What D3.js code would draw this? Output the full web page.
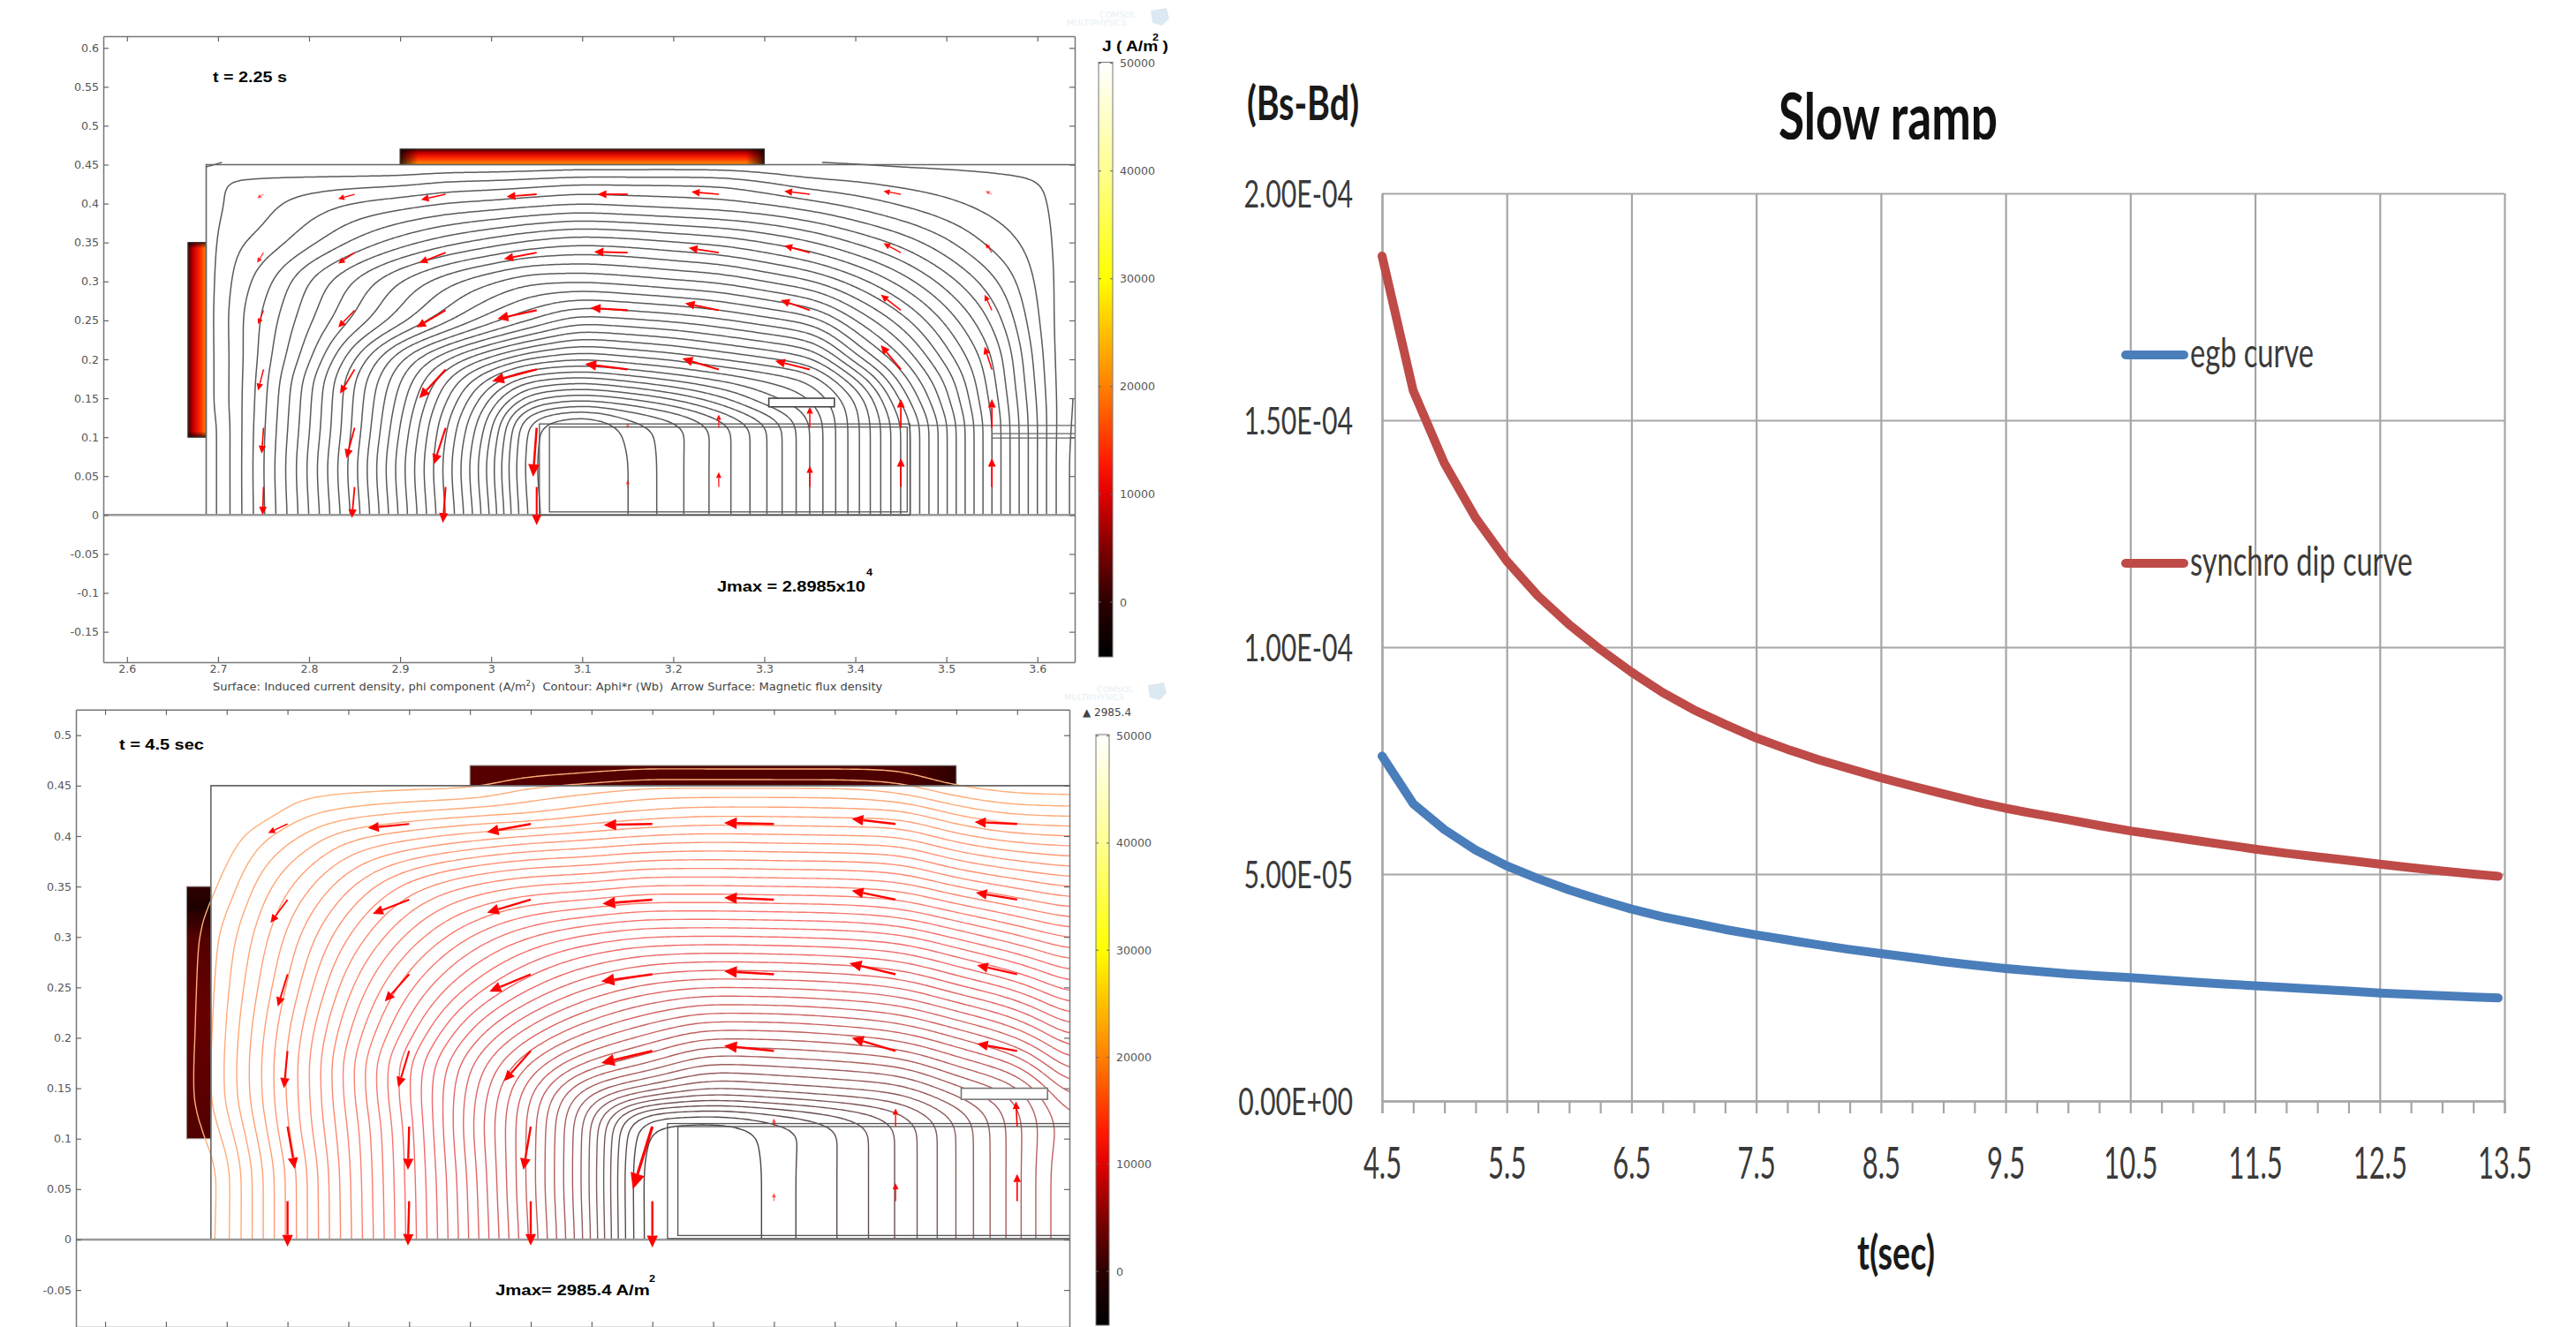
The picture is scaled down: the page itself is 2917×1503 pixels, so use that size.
<!DOCTYPE html>
<html>
<head>
<meta charset="utf-8">
<script src="https://cdn.jsdelivr.net/npm/d3@7"></script>
<style>
  body { margin: 0; background: #fff; }
  svg { display: block; }
</style>
</head>
<body>
<div id="chart"></div>
<script>
// ---- ramp curves (right chart) ----
const rampTimes = [4.5, 4.75, 5, 5.25, 5.5, 5.75, 6, 6.25, 6.5, 6.75, 7, 7.25, 7.5, 7.75, 8, 8.25, 8.5, 8.75, 9, 9.25, 9.5, 9.75, 10, 10.25, 10.5, 10.75, 11, 11.25, 11.5, 11.75, 12, 12.25, 12.5, 12.75, 13, 13.25, 13.45];
const egbCurve = [7.6e-5, 6.55e-5, 5.98e-5, 5.53e-5, 5.18e-5, 4.9e-5, 4.65e-5, 4.43e-5, 4.23e-5, 4.06e-5, 3.92e-5, 3.78e-5, 3.66e-5, 3.55e-5, 3.44e-5, 3.34e-5, 3.25e-5, 3.16e-5, 3.07e-5, 2.99e-5, 2.92e-5, 2.86e-5, 2.8e-5, 2.76e-5, 2.72e-5, 2.67e-5, 2.62e-5, 2.58e-5, 2.54e-5, 2.5e-5, 2.46e-5, 2.42e-5, 2.38e-5, 2.35e-5, 2.32e-5, 2.29e-5, 2.27e-5];
const synchroCurve = [1.862e-4, 1.565e-4, 1.405e-4, 1.285e-4, 1.19e-4, 1.113e-4, 1.05e-4, 9.95e-5, 9.45e-5, 9e-5, 8.62e-5, 8.3e-5, 8e-5, 7.75e-5, 7.52e-5, 7.32e-5, 7.12e-5, 6.94e-5, 6.77e-5, 6.6e-5, 6.45e-5, 6.32e-5, 6.2e-5, 6.07e-5, 5.95e-5, 5.85e-5, 5.75e-5, 5.65e-5, 5.55e-5, 5.46e-5, 5.38e-5, 5.3e-5, 5.22e-5, 5.14e-5, 5.07e-5, 5e-5, 4.95e-5];
const rampYTicks = [0, 5e-5, 1e-4, 1.5e-4, 2e-4];
const rampYLabels = ["0.00E+00", "5.00E-05", "1.00E-04", "1.50E-04", "2.00E-04"];
const rampXTicks = [4.5, 5.5, 6.5, 7.5, 8.5, 9.5, 10.5, 11.5, 12.5, 13.5];
const rampXMinor = d3.range(4.5, 13.51, 0.25);

// ---- tick values of the field panels ----
const xTicksA = [2.6, 2.7, 2.8, 2.9, 3, 3.1, 3.2, 3.3, 3.4, 3.5, 3.6];
const yTicksA = [-0.15, -0.1, -0.05, 0, 0.05, 0.1, 0.15, 0.2, 0.25, 0.3, 0.35, 0.4, 0.45, 0.5, 0.55, 0.6];
const xTicksB = [2.6, 2.65, 2.7, 2.75, 2.8, 2.85, 2.9, 2.95, 3, 3.05, 3.1, 3.15, 3.2, 3.25, 3.3, 3.35];
const yTicksB = [-0.05, 0, 0.05, 0.1, 0.15, 0.2, 0.25, 0.3, 0.35, 0.4, 0.45, 0.5];

// ---- colour bar of the field panels ----
const barStops = [-5000, 0, 5000, 10000, 13000, 20000, 30000, 40000, 50000];
const barColors = ["#000000", "#2b0000", "#800000", "#e00000", "#ff1a00", "#ff8000", "#ffff00", "#ffff90", "#ffffff"];
const barTicks = [0, 10000, 20000, 30000, 40000, 50000];

// ---- Aphi*r field, counted in contour lines ----
const fieldAx = [2.687, 2.70, 2.72, 2.76, 2.80, 2.85, 2.90, 2.95, 3.00, 3.05, 3.10, 3.15, 3.20, 3.25, 3.30, 3.35, 3.40, 3.45, 3.50, 3.55, 3.60, 3.64];
const fieldAy = [0, 0.06, 0.115, 0.14, 0.17, 0.2, 0.25, 0.3, 0.35, 0.4, 0.43, 0.452];
const fieldA = [
  [-0.05, 1, 2.5, 5.7, 9, 13.4, 18.2, 23, 28.1, 34, 35.3, 34, 32.4, 30.6, 28.2, 25, 21.4, 17, 12.1, 7, 2, -2],
  [-0.05, 1, 2.5, 5.8, 9.2, 13.7, 18.5, 23.3, 28.5, 34.2, 35.3, 34, 32.4, 30.6, 28.2, 25, 21.4, 17, 12.1, 7, 2, -2],
  [-0.05, 1, 2.5, 5.65, 8.9, 13.3, 18, 22.8, 27.7, 34, 35.2, 33.6, 32.4, 30.6, 28.2, 25, 21.4, 17, 12.1, 7, 2, -1.9],
  [-0.05, 1.3, 2.5, 5.55, 8.8, 13.2, 17.6, 22.1, 26.6, 31, 31.9, 31.2, 30, 28.2, 26, 24.3, 21.2, 16.15, 11.5, 6.75, 1.9, -1.8],
  [-0.05, 1.3, 2.5, 5.4, 8.6, 13, 17, 21, 24.7, 27.4, 27.9, 27.2, 26.3, 25.3, 24.2, 23, 19.5, 14.8, 10.8, 6.4, 1.7, -1.7],
  [-0.05, 1.3, 2.5, 5.1, 7.8, 12, 15.8, 18.9, 21.4, 23.3, 23.9, 23.4, 22.8, 22, 21.2, 20.2, 16.5, 13.2, 9.6, 6.05, 1.5, -1.6],
  [-0.05, 1.3, 2.6, 4.7, 6.8, 9.25, 11.6, 13.7, 15.6, 17.2, 18.5, 18.2, 17.8, 17.2, 16.4, 15.5, 13, 10.5, 7.7, 4.8, 1.1, -1.3],
  [-0.05, 1.3, 2.3, 4, 6, 8.1, 10, 11.6, 12.85, 13.8, 13.9, 13.6, 13.2, 12.8, 12, 11.1, 9.5, 7.6, 5.5, 3.3, 0.8, -1],
  [-0.05, 1.3, 1.8, 2.6, 3.7, 5.2, 6.5, 7.6, 8.5, 9.3, 9.7, 9.5, 9.1, 8.7, 8, 7.1, 5.9, 4.65, 3.2, 1.7, 0.5, -0.8],
  [-0.05, 1.2, 1.2, 1.85, 2.4, 3.05, 3.5, 4, 4.3, 4.65, 4.9, 4.7, 4.5, 4.3, 3.9, 3.3, 2.6, 1.85, 1.2, 0.65, 0.2, -0.6],
  [-0.05, 1.05, 1.2, 1.3, 1.35, 1.4, 1.5, 1.9, 2.05, 2.3, 2.6, 2.6, 2.6, 2.5, 1.9, 1.2, 0.9, 0.6, 0.4, 0.2, 0, -0.4],
  [-0.3, -0.3, -0.3, -0.3, -0.3, -0.3, -0.3, -0.3, -0.3, -0.3, -0.3, -0.3, -0.3, -0.3, -0.3, -0.3, -0.3, -0.3, -0.3, -0.3, -0.3, -0.3]
];
const levelsA = d3.range(-1, 35);

// ---- same thing for the lower panel ----
const fieldBx = [2.667, 2.687, 2.70, 2.72, 2.76, 2.80, 2.85, 2.90, 2.95, 3.00, 3.05, 3.10, 3.15, 3.20, 3.25, 3.30, 3.35, 3.393];
const fieldBy = [0, 0.06, 0.115, 0.14, 0.17, 0.2, 0.25, 0.3, 0.35, 0.4, 0.43, 0.45, 0.46, 0.472];
const fieldB = [
  [0, 0.3, 1.7, 3.9, 8.3, 12.7, 18.3, 24.1, 30.2, 36.9, 45, 45.5, 43.5, 42.1, 40, 37, 33.3, 29.6],
  [0, 0.1, 1.7, 3.9, 8.3, 12.8, 18.4, 24.3, 30.5, 37.1, 45, 45.5, 43.5, 42.1, 40, 37, 33.3, 29.6],
  [0, 1.5, 2.6, 4.7, 9, 13.1, 18.6, 24.7, 30.4, 37, 44.2, 44.5, 43.5, 42.1, 40, 37, 33.3, 30],
  [0, 2, 3.1, 5.1, 9.1, 13.4, 18.9, 24.5, 30, 35.5, 38.3, 39.3, 38.8, 38.2, 37.5, 35.2, 32.8, 28.9],
  [0, 2, 3.2, 5.15, 9.15, 13.5, 18.9, 23.9, 28.4, 31.9, 33.7, 35.5, 35.2, 34.8, 34.2, 32.2, 30.3, 26.5],
  [0, 1.9, 3.1, 5, 8.9, 13, 17.8, 22.4, 26, 28.7, 30.5, 31.9, 31.8, 31.4, 30.7, 29, 27, 24],
  [0, 1.8, 2.8, 4.5, 8, 11.7, 15.75, 19.2, 21.9, 24, 25.4, 26, 25.9, 25.6, 25, 23.3, 21.6, 19.4],
  [0, 1.6, 2.4, 3.9, 7, 10, 13.3, 16, 18, 19.3, 20, 20.1, 20, 19.8, 19.3, 17.8, 16.2, 14.8],
  [0, 0.6, 1.3, 2.9, 5.4, 7.8, 10.4, 12.1, 13.1, 13.5, 14.1, 14.1, 14, 13.9, 13.5, 12, 10.8, 9.9],
  [0, 0, 0.3, 1.3, 3, 4.6, 5.6, 6.4, 7.1, 7.6, 8.1, 8.3, 8.2, 8.1, 7.9, 6.3, 5.3, 5],
  [0, 0, 0, 0, 1.2, 1.8, 2.3, 2.7, 3.1, 3.9, 4.5, 4.8, 4.8, 4.7, 4.5, 3, 2.1, 1.95],
  [0, 0, 0, 0, 0.4, 0.5, 0.6, 0.7, 2.2, 2.5, 3, 2.9, 2.9, 2.9, 2.2, 0.9, 0.3, 0.2],
  [0, 0, 0, 0, 0, 0, 0, 0, 0.4, 1, 1.3, 1.3, 1.3, 1.3, 1.35, 0, 0, 0],
  [0, 0, 0, 0, 0, 0, 0, 0, 0, 0, 0, 0, 0, 0, 0, 0, 0, 0]
];
const levelsB = d3.range(1, 45);
const levelStopsB = [1, 10, 20, 30, 38, 45];
const levelColorsB = ["#ffb078", "#ff8f72", "#f46a6a", "#c9615f", "#85595a", "#404040"];

// ---- flux density arrows, tails on a grid, vectors in 1/1000 axis units ----
const arrowCols = [2.75, 2.85, 2.95, 3.05, 3.15, 3.25, 3.35, 3.45, 3.55];
const arrowRows = [0.412, 0.337, 0.263, 0.187, 0.112, 0.036];
const arrowUA = [
  [-7, -18, -27, -33, -33, -30, -28, -19, -7],
  [-7, -18, -29, -36, -37, -33, -28, -19, -7],
  [-6, -18, -32, -43, -41, -37, -32, -22, -8],
  [-6, -16, -29, -49, -47, -40, -38, -22, -8],
  [-2, -9, -13, -4, 0, 0, 0, 0, 0],
  [-1, -3, -3, 0, 0, 0, 0, 0, 0]
];
const arrowVA = [
  [-5, -6, -7, -3, 0, 3, 4, 4, 4],
  [-13, -14, -13, -8, 1, 6, 9, 12, 12],
  [-18, -22, -22, -11, 3, 9, 13, 20, 20],
  [-27, -31, -37, -15, 7, 14, 11, 31, 29],
  [-33, -39, -47, -63, 6, 17, 27, 37, 37],
  [-36, -40, -46, -49, 9, 19, 27, 37, 37]
];
const arrowColsB = [2.75, 2.85, 2.95, 3.05, 3.15, 3.25, 3.35];
const arrowRowsB = [0.412, 0.337, 0.263, 0.187, 0.112, 0.038];
const arrowUB = [
  [-16, -34, -36, -40, -41, -36, -35],
  [-14, -30, -36, -41, -41, -36, -34],
  [-8, -20, -34, -42, -41, -38, -33],
  [-3, -9, -22, -42, -41, -36, -33],
  [6, -1, -6, -16, 0, 0, -1],
  [0, -1, 0, 0, 0, 0, 0]
];
const arrowVB = [
  [-9, -4, -8, -1, 1, 5, 2],
  [-23, -14, -13, -4, 2, 9, 7],
  [-32, -27, -17, -7, 3, 11, 9],
  [-37, -36, -30, -12, 5, 13, 7],
  [-42, -43, -43, -62, 8, 18, 25],
  [-45, -44, -44, -46, 8, 18, 27]
];

// ---- page ----
const svg = d3.select("#chart").append("svg").attr("width", 2917).attr("height", 1503);
const defs = svg.append("defs");
const tickGrey = "#666";
const smallFont = "'DejaVu Sans', sans-serif";
const boldFont = "'Liberation Sans', Arial, sans-serif";
const rampFont = "Lato, 'Open Sans', sans-serif";

// draws a string squeezed to an exact pixel width
function fitText(parent, str, x, y, width, size, family, weight, color) {
  const t = parent.append("text")
    .text(str)
    .attr("font-family", family)
    .attr("font-size", size)
    .attr("font-weight", weight || "normal")
    .attr("fill", color || "#000");
  const len = t.node().getComputedTextLength();
  t.attr("transform", `translate(${x},${y}) scale(${width / len},1)`);
  return t;
}

function gradient(id, horizontal, stops) {
  const g = defs.append("linearGradient").attr("id", id)
    .attr("x1", 0).attr("y1", 0)
    .attr("x2", horizontal ? 1 : 0).attr("y2", horizontal ? 0 : 1);
  stops.forEach(s => g.append("stop").attr("offset", s[0]).attr("stop-color", s[1]).attr("stop-opacity", s[2] === undefined ? 1 : s[2]));
  return `url(#${id})`;
}

// monotone cubic through the read values, so the contours do not come out kinked
function monotone(xs, ys) {
  const n = xs.length;
  const d = d3.range(n - 1).map(i => (ys[i + 1] - ys[i]) / (xs[i + 1] - xs[i]));
  const m = d3.range(n).map(i => {
    if (i === 0) return d[0];
    if (i === n - 1) return d[n - 2];
    return d[i - 1] * d[i] <= 0 ? 0 : 2 * d[i - 1] * d[i] / (d[i - 1] + d[i]);
  });
  return q => {
    let i = Math.min(d3.bisectRight(xs, q) - 1, n - 2);
    if (i < 0) i = 0;
    const h = xs[i + 1] - xs[i], t = (q - xs[i]) / h;
    return (2 * t * t * t - 3 * t * t + 1) * ys[i] + (t * t * t - 2 * t * t + t) * h * m[i]
      + (-2 * t * t * t + 3 * t * t) * ys[i + 1] + (t * t * t - t * t) * h * m[i + 1];
  };
}

// d3.contours closes its polygons around the grid, only keep the part inside
function openLines(multi, nx, ny) {
  const eps = 1e-6;
  const inside = p => p[0] >= 0.5 - eps && p[0] <= nx - 0.5 + eps && p[1] >= 0.5 - eps && p[1] <= ny - 0.5 + eps;
  const lines = [];
  multi.coordinates.forEach(poly => poly.forEach(ring => {
    const pts = ring.slice(0, -1);
    const start = pts.findIndex(p => !inside(p));
    if (start < 0) { lines.push(ring); return; }
    let cur = [];
    for (let i = 0; i < pts.length; i++) {
      const p = pts[(start + i) % pts.length];
      if (inside(p)) cur.push(p);
      else { if (cur.length > 1) lines.push(cur); cur = []; }
    }
    if (cur.length > 1) lines.push(cur);
  }));
  return lines;
}

function drawContours(g, x, y, gx, gy, field, levels, colorOf, width) {
  const stepX = 0.004, stepY = 0.003;
  const nx = Math.round((gx[gx.length - 1] - gx[0]) / stepX) + 1;
  const ny = Math.round((gy[gy.length - 1] - gy[0]) / stepY) + 1;
  const fineX = d3.range(nx).map(i => gx[0] + i * stepX);
  const fineY = d3.range(ny).map(i => gy[0] + i * stepY);
  const rows = field.map(r => { const f = monotone(gx, r); return fineX.map(f); });
  const flat = new Array(nx * ny);
  fineX.forEach((fx, i) => {
    const f = monotone(gy, rows.map(r => r[i]));
    fineY.forEach((fy, j) => { flat[j * nx + i] = f(fy); });
  });
  if (d3.blur2) d3.blur2({ data: flat, width: nx, height: ny }, 3);

  const ix = d3.scaleLinear().domain([0.5, nx - 0.5]).range([fineX[0], fineX[nx - 1]]);
  const iy = d3.scaleLinear().domain([0.5, ny - 0.5]).range([fineY[0], fineY[ny - 1]]);
  const gen = d3.contours().size([nx, ny]);
  const line = d3.line()
    .x(p => x(ix(p[0])))
    .y(p => y(iy(p[1])))
    .curve(d3.curveBasis);
  levels.forEach(level => {
    openLines(gen.contour(flat, level), nx, ny).forEach(pts => {
      g.append("path")
        .attr("d", line(pts))
        .attr("fill", "none")
        .attr("stroke", colorOf(level))
        .attr("stroke-width", width);
    });
  });
}

function drawArrows(g, x, y, cols, rows, us, vs) {
  rows.forEach((ry, r) => cols.forEach((cx, c) => {
    const x0 = x(cx), y0 = y(ry);
    const x1 = x(cx + us[r][c] / 1000), y1 = y(ry + vs[r][c] / 1000);
    const len = Math.hypot(x1 - x0, y1 - y0);
    const ux = (x1 - x0) / len, uy = (y1 - y0) / len;
    const head = Math.min(3 + len * 0.2, 18), half = 1.5 + len * 0.09;
    const bx = x1 - ux * head, by = y1 - uy * head;
    const op = Math.min(1, 0.35 + len / 25);
    g.append("line")
      .attr("x1", x0).attr("y1", y0).attr("x2", bx).attr("y2", by)
      .attr("stroke", "#f00").attr("stroke-width", 0.6 + len * 0.035).attr("opacity", op);
    g.append("path")
      .attr("d", d3.line()([[x1, y1], [bx - uy * half, by + ux * half], [bx + uy * half, by - ux * half]]))
      .attr("fill", "#f00").attr("opacity", op);
  }));
}

function styleAxis(sel) {
  sel.select(".domain").attr("stroke", "#777").attr("stroke-width", 1.5);
  sel.selectAll("line").attr("stroke", tickGrey).attr("stroke-width", 1.2);
  sel.selectAll("text").attr("font-family", smallFont).attr("font-size", 12.6).attr("fill", "#555");
}

function drawFrame(g, x, y, xTicks, yTicks, showXLabels) {
  const fmt = d => String(+d.toFixed(2));
  const [x0, x1] = x.range();
  const [y0, y1] = y.range();
  g.append("g").attr("transform", `translate(${x0},0)`)
    .call(d3.axisLeft(y).tickValues(yTicks).tickSizeInner(-6).tickSizeOuter(0).tickPadding(5).tickFormat(fmt)).call(styleAxis);
  g.append("g").attr("transform", `translate(${x1},0)`)
    .call(d3.axisRight(y).tickValues(yTicks).tickSizeInner(-6).tickSizeOuter(0).tickFormat("")).call(styleAxis);
  g.append("g").attr("transform", `translate(0,${y1})`)
    .call(d3.axisTop(x).tickValues(xTicks).tickSizeInner(-6).tickSizeOuter(0).tickFormat("")).call(styleAxis);
  g.append("g").attr("transform", `translate(0,${y0})`)
    .call(d3.axisBottom(x).tickValues(xTicks).tickSizeInner(-6).tickSizeOuter(0).tickPadding(3).tickFormat(showXLabels ? fmt : "")).call(styleAxis);
}

function drawColorBar(g, x0, x1, barScale, yTop, yBottom, id) {
  const stops = barStops.map((v, i) => [(barScale(v) - yTop) / (yBottom - yTop), barColors[i]]).sort((a, b) => a[0] - b[0]);
  g.append("rect").attr("x", x0).attr("y", yTop).attr("width", x1 - x0).attr("height", yBottom - yTop)
    .attr("fill", gradient(id, false, stops)).attr("stroke", "#777").attr("stroke-width", 1);
  barTicks.forEach(v => {
    g.append("line").attr("x1", x0).attr("x2", x0 + 3).attr("y1", barScale(v)).attr("y2", barScale(v)).attr("stroke", "#666");
    g.append("line").attr("x1", x1 - 3).attr("x2", x1).attr("y1", barScale(v)).attr("y2", barScale(v)).attr("stroke", "#666");
    g.append("text").text(v).attr("x", x1 + 8).attr("y", barScale(v) + 4.5)
      .attr("font-family", smallFont).attr("font-size", 12.6).attr("fill", "#555");
  });
}

function drawWatermark(g, x, y) {
  [["COMSOL", 37, 0], ["MULTIPHYSICS", 0, 9]].forEach(d => {
    g.append("text").text(d[0]).attr("x", x + d[1]).attr("y", y + d[2])
      .attr("font-family", smallFont).attr("font-size", 9.5).attr("fill", "#e6eff5");
  });
  g.append("path").attr("d", `M${x + 95},${y - 8} l18,-3 l3,12 l-8,8 l-11,-3 z`).attr("fill", "#dce9f2");
}

// ---- top panel ----
const panelA = svg.append("g");
const xA = d3.scaleLinear().domain([2.574, 3.641]).range([117, 1217]);
const yA = d3.scaleLinear().domain([-0.189, 0.615]).range([750, 41]);
defs.append("clipPath").attr("id", "clipA").append("rect").attr("x", 117).attr("y", 41).attr("width", 1100).attr("height", 709);

const coilTopFill = gradient("coilTopA", false, [[0, "#4a0000"], [0.3, "#d80000"], [0.6, "#ff3000"], [1, "#ff9a00"]]);
const coilLeftFill = gradient("coilLeftA", true, [[0, "#4a0000"], [0.35, "#d80000"], [0.7, "#ff3000"], [1, "#ff8a00"]]);
const endFadeH = gradient("fadeH", true, [[0, "#000", 0.8], [0.05, "#000", 0], [0.95, "#000", 0], [1, "#000", 0.8]]);
const endFadeV = gradient("fadeV", false, [[0, "#000", 0.7], [0.03, "#000", 0], [0.97, "#000", 0], [1, "#000", 0.7]]);

function boxA(x0, x1, y0, y1) {
  return panelA.append("rect").attr("x", xA(x0)).attr("y", yA(y1)).attr("width", xA(x1) - xA(x0)).attr("height", yA(y0) - yA(y1));
}
boxA(2.9, 3.3, 0.45, 0.47).attr("fill", coilTopFill);
boxA(2.9, 3.3, 0.45, 0.47).attr("fill", endFadeH).attr("stroke", "#333").attr("stroke-width", 1.2);
boxA(2.667, 2.687, 0.1, 0.35).attr("fill", coilLeftFill);
boxA(2.667, 2.687, 0.1, 0.35).attr("fill", endFadeV).attr("stroke", "#333").attr("stroke-width", 1.2);

const contoursA = panelA.append("g").attr("clip-path", "url(#clipA)");
drawContours(contoursA, xA, yA, fieldAx, fieldAy, fieldA, levelsA, () => "#5a5a5a", 1.5);

// iron and vacuum chamber outlines
panelA.append("path").attr("fill", "none").attr("stroke", "#666").attr("stroke-width", 1.6)
  .attr("d", `M${xA(2.687)},${yA(0)}V${yA(0.45)}H${xA(3.641)}`);
panelA.append("line").attr("x1", 117).attr("x2", 1217).attr("y1", yA(0)).attr("y2", yA(0)).attr("stroke", "#999").attr("stroke-width", 2.5);
boxA(3.053, 3.46, 0, 0.117).attr("fill", "none").attr("stroke", "#555").attr("stroke-width", 1.3);
boxA(3.064, 3.457, 0.004, 0.113).attr("fill", "none").attr("stroke", "#555").attr("stroke-width", 1.3);
boxA(3.305, 3.377, 0.139, 0.15).attr("fill", "#fff").attr("stroke", "#444").attr("stroke-width", 1.6);
[0.115, 0.1045, 0.0988].forEach((v, i) => {
  panelA.append("line").attr("x1", xA(i ? 3.55 : 3.46)).attr("x2", xA(3.641)).attr("y1", yA(v)).attr("y2", yA(v)).attr("stroke", "#666").attr("stroke-width", 1.2);
});

drawArrows(panelA, xA, yA, arrowCols, arrowRows, arrowUA, arrowVA);
drawFrame(panelA, xA, yA, xTicksA, yTicksA, true);

fitText(panelA, "t = 2.25 s", 241, 93, 84, 17, boldFont, "bold");
fitText(panelA, "Jmax = 2.8985x10", 812, 670, 168, 17, boldFont, "bold");
fitText(panelA, "4", 981, 652, 7, 11, boldFont, "bold");
fitText(panelA, "J ( A/m )", 1248, 58, 75, 17, boldFont, "bold");
fitText(panelA, "2", 1305, 46, 7, 11, boldFont, "bold");

const barA = d3.scaleLinear().domain([0, 50000]).range([682, 71.6]);
drawColorBar(panelA, 1244, 1260, barA, 70.5, 744, "barA");
drawWatermark(panelA, 1208, 20);

const footer = panelA.append("text").attr("font-family", smallFont).attr("font-size", 12).attr("fill", "#444").attr("xml:space", "preserve");
footer.append("tspan").text("Surface: Induced current density, phi component (A/m");
footer.append("tspan").text("2").attr("font-size", 8).attr("dy", -5);
footer.append("tspan").text(")  Contour: Aphi*r (Wb)  Arrow Surface: Magnetic flux density").attr("dy", 5);
footer.attr("transform", `translate(241,782) scale(${759 / footer.node().getComputedTextLength()},1)`);

// ---- lower panel ----
const panelB = svg.append("g");
const xB = d3.scaleLinear().domain([2.576, 3.393]).range([86, 1211]);
const yB = d3.scaleLinear().domain([-0.0867, 0.5254]).range([1503, 803.7]);
defs.append("clipPath").attr("id", "clipB").append("rect").attr("x", 86).attr("y", 803.7).attr("width", 1125).attr("height", 700);

function boxB(x0, x1, y0, y1) {
  return panelB.append("rect").attr("x", xB(x0)).attr("y", yB(y1)).attr("width", xB(x1) - xB(x0)).attr("height", yB(y0) - yB(y1));
}
const coilTopB = gradient("coilTopB", true, [[0, "#560000"], [0.9, "#4c0000"], [1, "#2e0000"]]);
const coilLeftB = gradient("coilLeftB", false, [[0, "#300000"], [0.08, "#1e0000"], [0.2, "#520000"], [0.5, "#680000"], [1, "#520000"]]);
boxB(2.9, 3.3, 0.45, 0.47).attr("fill", coilTopB).attr("stroke", "#999").attr("stroke-width", 1);
boxB(2.667, 2.687, 0.1, 0.35).attr("fill", coilLeftB).attr("stroke", "#999").attr("stroke-width", 1);

const colorB = d3.scaleLinear().domain(levelStopsB).range(levelColorsB);
const contoursB = panelB.append("g").attr("clip-path", "url(#clipB)");
drawContours(contoursB, xB, yB, fieldBx, fieldBy, fieldB, levelsB, colorB, 1.4);

panelB.append("path").attr("fill", "none").attr("stroke", "#666").attr("stroke-width", 1.6)
  .attr("d", `M${xB(2.687)},${yB(0)}V${yB(0.45)}H${xB(3.393)}`);
panelB.append("line").attr("x1", 86).attr("x2", 1211).attr("y1", yB(0)).attr("y2", yB(0)).attr("stroke", "#999").attr("stroke-width", 2.5);
const chamberB = panelB.append("g").attr("clip-path", "url(#clipB)");
[[3.0625, 0.001, 0.115], [3.071, 0.004, 0.112]].forEach(d => {
  chamberB.append("rect").attr("x", xB(d[0])).attr("y", yB(d[2])).attr("width", 600).attr("height", yB(d[1]) - yB(d[2]))
    .attr("fill", "none").attr("stroke", "#555").attr("stroke-width", 1.3);
});
boxB(3.304, 3.375, 0.139, 0.15).attr("fill", "#fff").attr("stroke", "#777").attr("stroke-width", 1.6);

drawArrows(panelB, xB, yB, arrowColsB, arrowRowsB, arrowUB, arrowVB);
drawFrame(panelB, xB, yB, xTicksB, yTicksB, false);

fitText(panelB, "t = 4.5 sec", 135, 848.5, 96, 17, boldFont, "bold");
fitText(panelB, "Jmax= 2985.4 A/m", 561, 1466.5, 175, 17, boldFont, "bold");
fitText(panelB, "2", 735, 1452, 7, 11, boldFont, "bold");

const barB = d3.scaleLinear().domain([0, 50000]).range([1440, 833.6]);
drawColorBar(panelB, 1241, 1256, barB, 832, 1501, "barB");
drawWatermark(panelB, 1205, 784);
panelB.append("text").text("▲ 2985.4").attr("x", 1226).attr("y", 811)
  .attr("font-family", smallFont).attr("font-size", 12).attr("fill", "#444");

// ---- right chart ----
const ramp = svg.append("g");
const xR = d3.scaleLinear().domain([4.5, 13.5]).range([1565, 2836]);
const yR = d3.scaleLinear().domain([0, 2e-4]).range([1247, 219]);
const gridGrey = "#a6a6a6";

function squeezeTicks(sel, factor) {
  sel.selectAll("text").each(function () {
    const t = d3.select(this);
    t.attr("transform", `translate(${+t.attr("x") || 0},${+t.attr("y") || 0}) scale(${factor},1)`).attr("x", 0).attr("y", 0);
  });
}

const yAxisR = ramp.append("g").attr("transform", `translate(${xR(4.5)},0)`)
  .call(d3.axisLeft(yR).tickValues(rampYTicks).tickSizeInner(-(2836 - 1565)).tickSizeOuter(0).tickPadding(33).tickFormat((d, i) => rampYLabels[i]));
const xGridR = ramp.append("g").attr("transform", `translate(0,${yR(0)})`)
  .call(d3.axisBottom(xR).tickValues(rampXTicks).tickSizeInner(-(1247 - 219)).tickSizeOuter(0).tickPadding(70).tickFormat(d3.format(".1f")));
const xMinorR = ramp.append("g").attr("transform", `translate(0,${yR(0)})`)
  .call(d3.axisBottom(xR).tickValues(rampXMinor).tickSize(14).tickFormat(""));
[yAxisR, xGridR, xMinorR].forEach(a => {
  a.select(".domain").attr("stroke", gridGrey).attr("stroke-width", 2.2);
  a.selectAll("line").attr("stroke", gridGrey).attr("stroke-width", 2.2);
  a.selectAll("text").attr("font-family", rampFont).attr("fill", "#3a3a3a");
});
yAxisR.selectAll("text").attr("font-size", 42).attr("dy", "0.36em");
xGridR.selectAll("text").attr("font-size", 50).attr("dy", "0.36em");
squeezeTicks(yAxisR, 0.72);
squeezeTicks(xGridR, 0.62);

// curves, blue first then red like the legend
const rampLine = series => d3.line()
  .x((d, i) => xR(rampTimes[i]))
  .y(d => yR(d))(series);
[[egbCurve, "#4a7ebb"], [synchroCurve, "#be4b48"]].forEach(d => {
  ramp.append("path").attr("d", rampLine(d[0])).attr("fill", "none")
    .attr("stroke", d[1]).attr("stroke-width", 10).attr("stroke-linecap", "round").attr("stroke-linejoin", "round");
});

// legend
[["egb curve", "#4a7ebb", 402, 140], ["synchro dip curve", "#be4b48", 638, 252]].forEach(d => {
  ramp.append("line").attr("x1", 2407).attr("x2", 2473).attr("y1", d[2]).attr("y2", d[2])
    .attr("stroke", d[1]).attr("stroke-width", 10).attr("stroke-linecap", "round");
  fitText(ramp, d[0], 2480, d[2] + 14, d[3], 46, rampFont, "normal", "#3a3a3a");
});

fitText(ramp, "(Bs-Bd)", 1412, 136, 127, 54, rampFont, "bold", "#1a1a1a");
fitText(ramp, "Slow ramp", 2014, 158, 248, 72, rampFont, "bold", "#111");
ramp.append("rect").attr("x", 2000).attr("y", 158).attr("width", 280).attr("height", 30).attr("fill", "#fff");
fitText(ramp, "t(sec)", 2103, 1438, 88, 54, rampFont, "bold", "#1a1a1a");
</script>
</body>
</html>
